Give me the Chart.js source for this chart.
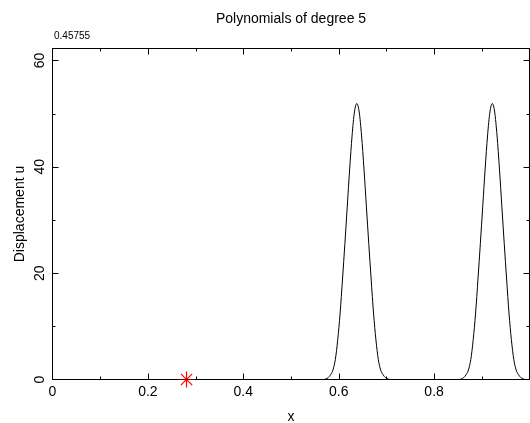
<!DOCTYPE html>
<html><head><meta charset="utf-8">
<script src="https://cdn.jsdelivr.net/npm/chart.js@4/dist/chart.umd.min.js"></script>
<style>html,body{margin:0;padding:0;background:#fff;}#wrap{width:530px;height:423px;}</style>
</head><body><div id="wrap"><canvas id="c" width="530" height="423"></canvas></div>
<script>
const chartTitle = 'Polynomials of degree 5';
const cornerLabel = '0.45755';
const xAxisTitle = 'x';
const yAxisTitle = 'Displacement u';

const xValues = [0,
  0.568,0.573,0.578,0.583,0.588,0.593,0.598,0.603,0.608,0.613,0.618,0.623,0.628,0.633,0.638,
  0.643,0.648,0.653,0.658,0.663,0.668,0.673,0.678,0.683,0.688,0.693,0.698,0.703,0.708,
  0.852,0.857,0.862,0.867,0.872,0.877,0.882,0.887,0.892,0.897,0.902,0.907,0.912,0.917,0.922,
  0.927,0.932,0.937,0.942,0.947,0.952,0.957,0.962,0.967,0.972,0.977,0.982,0.987,0.992,
  1.0];
const uValues = [0,
  0,0.1,0.35,0.9,1.8,3.8,7.5,12.5,18.9,25.6,32.6,39.6,45.8,50.3,51.9,
  50.3,45.8,39.6,32.6,25.6,18.9,12.5,7.5,3.8,1.8,0.9,0.35,0.1,0,
  0,0.1,0.35,0.9,1.8,3.8,7.5,12.5,18.9,25.6,32.6,39.6,45.8,50.3,51.9,
  50.3,45.8,39.6,32.6,25.6,18.9,12.5,7.5,3.8,1.8,0.9,0.35,0.1,0,
  0];
const markerX = [0.281];
const markerU = [0];

const xTickValues = [0, 0.2, 0.4, 0.6, 0.8];
const xTickLabels = ['0', '0.2', '0.4', '0.6', '0.8'];
const xMinorTicks = [0.1, 0.3, 0.5, 0.7, 0.9];
const yTickValues = [0, 20, 40, 60];
const yTickLabels = ['0', '20', '40', '60'];
const yMinorTicks = [10, 30, 50];
const xRange = [0, 1];
const yRange = [0, 62.25];

const FONT = 'Liberation Sans, Arial, sans-serif';

const framePlugin = {
  id: 'frame',
  beforeDatasetsDraw(chart) {
    const {ctx, chartArea: a, scales: {x, y}} = chart;
    ctx.save();
    ctx.strokeStyle = '#000';
    ctx.lineWidth = 1;
    ctx.strokeRect(a.left, a.top, a.right - a.left, a.bottom - a.top);
    ctx.beginPath();
    const xt = (v, len) => {
      const p = Math.round(x.getPixelForValue(v)) + 0.5;
      ctx.moveTo(p, a.bottom); ctx.lineTo(p, a.bottom - len);
      ctx.moveTo(p, a.top); ctx.lineTo(p, a.top + len);
    };
    const yt = (v, len) => {
      const p = Math.round(y.getPixelForValue(v)) + 0.5;
      ctx.moveTo(a.left, p); ctx.lineTo(a.left + len, p);
      ctx.moveTo(a.right, p); ctx.lineTo(a.right - len, p);
    };
    xTickValues.forEach(v => { if (v > xRange[0]) xt(v, 6); });
    xMinorTicks.forEach(v => xt(v, 3));
    yTickValues.forEach(v => { if (v > yRange[0]) yt(v, 6); });
    yMinorTicks.forEach(v => yt(v, 3));
    ctx.stroke();
    ctx.fillStyle = '#000';
    ctx.font = '10px ' + FONT;
    ctx.textAlign = 'left';
    ctx.textBaseline = 'middle';
    ctx.fillText(cornerLabel, a.left + 1.5, 36);
    ctx.restore();
  }
};

new Chart(document.getElementById('c'), {
  type: 'scatter',
  data: {
    datasets: [
      {
        data: xValues.map((v, i) => ({x: v, y: uValues[i]})),
        showLine: true,
        borderColor: '#000',
        borderWidth: 1,
        pointRadius: 0,
        fill: false,
        cubicInterpolationMode: 'monotone'
      },
      {
        data: markerX.map((v, i) => ({x: v, y: markerU[i]})),
        showLine: false,
        pointStyle: 'star',
        pointRadius: 8,
        borderColor: '#ff0000',
        backgroundColor: '#ff0000',
        borderWidth: 1.2,
        clip: false
      }
    ]
  },
  options: {
    responsive: false,
    devicePixelRatio: 1,
    animation: false,
    events: [],
    layout: {autoPadding: false, padding: {left: 0, right: 0.5, top: 0, bottom: 0}},
    plugins: {
      legend: {display: false},
      tooltip: {enabled: false},
      title: {
        display: true,
        text: chartTitle,
        fullSize: false,
        color: '#000',
        font: {family: FONT, size: 14, weight: 'normal', lineHeight: 1.2},
        padding: {top: 10.8, bottom: 20.9}
      }
    },
    scales: {
      x: {
        type: 'linear',
        min: xRange[0], max: xRange[1],
        grid: {display: false, drawTicks: false, tickLength: 0},
        border: {display: false},
        afterBuildTicks: s => { s.ticks = xTickValues.map(v => ({value: v})); },
        afterFit: s => { s.height = 43.5; s.paddingLeft = 0; s.paddingRight = 0; },
        ticks: {
          autoSkip: false, minRotation: 0, maxRotation: 0, padding: 4,
          color: '#000', font: {family: FONT, size: 14},
          callback: (v, i) => xTickLabels[i]
        },
        title: {
          display: true, text: xAxisTitle, color: '#000',
          font: {family: FONT, size: 14, lineHeight: 1.2},
          padding: {top: 0, bottom: -3}
        }
      },
      y: {
        type: 'linear',
        min: yRange[0], max: yRange[1],
        grid: {display: false, drawTicks: false, tickLength: 0},
        border: {display: false},
        afterBuildTicks: s => { s.ticks = yTickValues.map(v => ({value: v})); },
        afterFit: s => { s.width = 52.5; s.paddingTop = 0; s.paddingBottom = 0; },
        ticks: {
          autoSkip: false, minRotation: 90, maxRotation: 90, padding: 4.7,
          crossAlign: 'center',
          color: '#000', font: {family: FONT, size: 14},
          callback: (v, i) => yTickLabels[i]
        },
        title: {
          display: true, text: yAxisTitle, color: '#000',
          font: {family: FONT, size: 14, lineHeight: 1.2},
          padding: {top: 11.8, bottom: 0}
        }
      }
    }
  },
  plugins: [framePlugin]
});
</script></body></html>
